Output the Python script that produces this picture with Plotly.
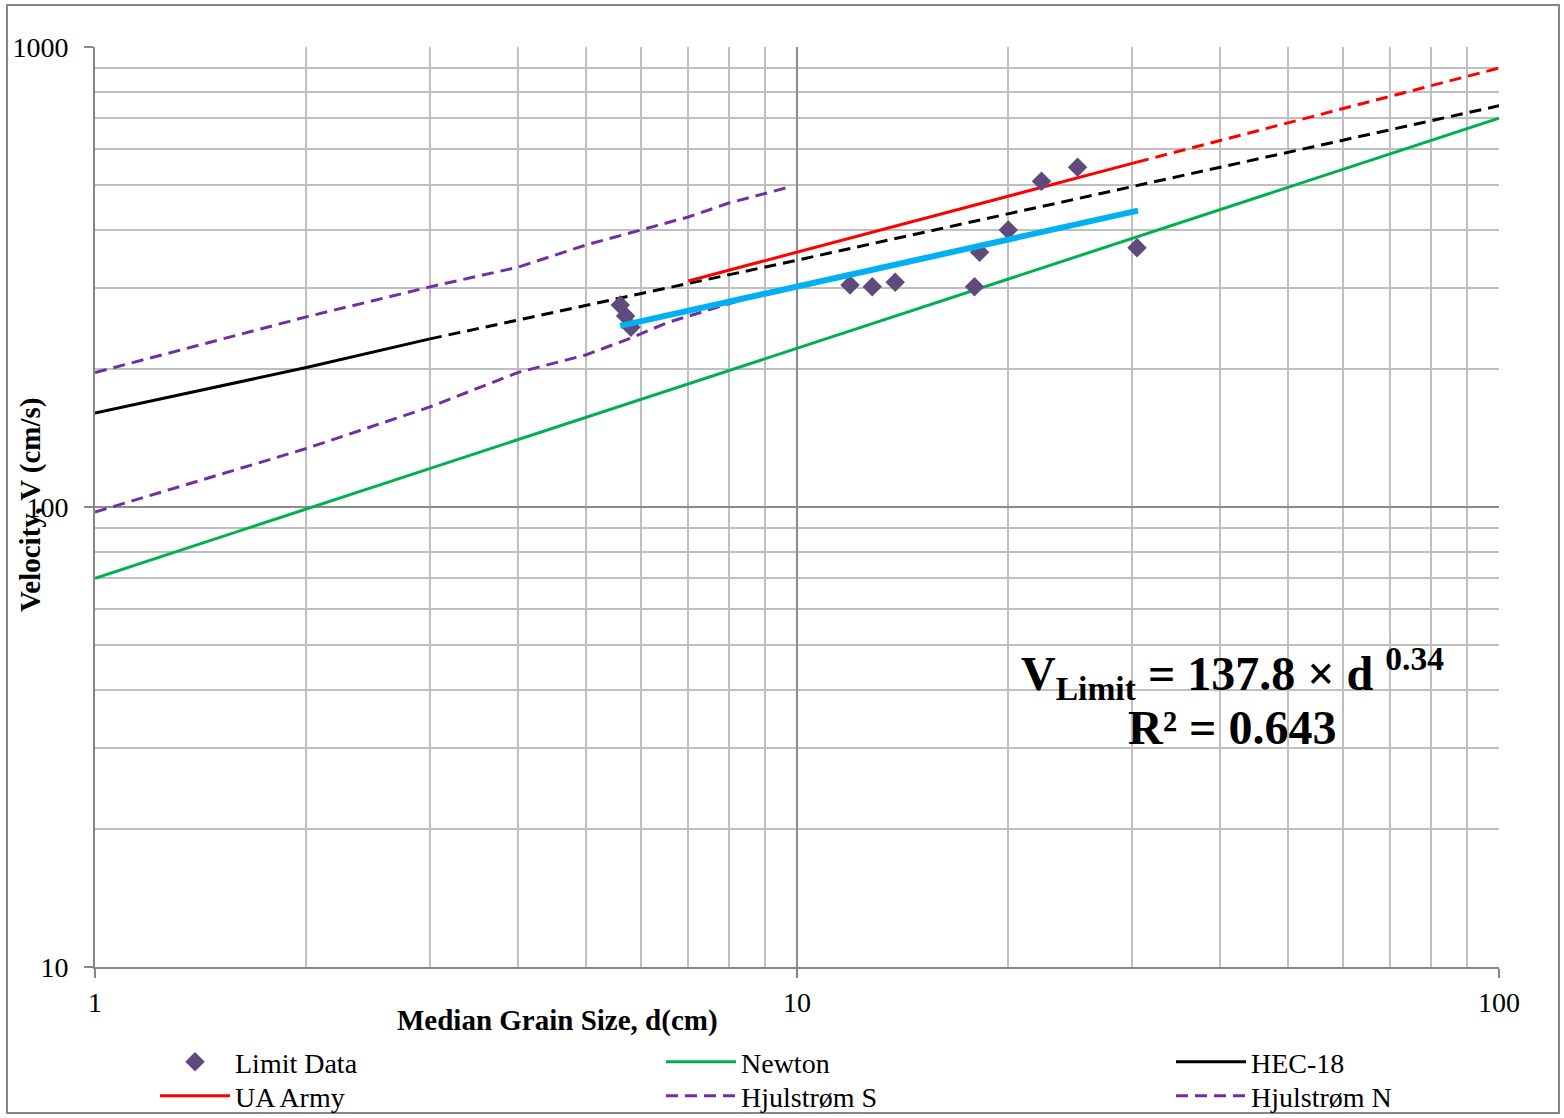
import plotly.graph_objects as go

FONT = "Liberation Serif"

# Observed limit velocities, d (cm) vs V (cm/s)
limit_d = [5.6, 5.7, 5.8, 11.9, 12.8, 13.8, 17.9, 18.2, 20.0, 22.3, 25.1, 30.5]
limit_v = [275, 260, 246, 304, 301, 308, 301, 358, 400, 511, 548, 366]

# Power-law fit to the limit data: V = coef * d ** exp
fit_coef = 137.8
fit_exp = 0.34
fit_r2 = 0.643
fit_d = [5.6, 30.6]
fit_v = [fit_coef * d ** fit_exp for d in fit_d]

# Reference relations
newton_d = [1, 100]
newton_v = [70, 700]

hec_d = [1, 2, 3]
hec_v = [160, 201, 232]
hec_ext_d = [3, 10, 30, 100]
hec_ext_v = [232, 344, 497, 745]

army_d = [7, 10, 30.5]
army_v = [310, 358, 562]
army_ext_d = [30.5, 100]
army_ext_v = [562, 900]

hjul_s_d = [1, 2, 3, 4, 5, 6, 7, 8, 9.65]
hjul_s_v = [196, 259, 301, 332, 371, 400, 427, 458, 494]
hjul_n_d = [1, 2, 3, 4, 5, 5.8, 6.55, 8.6]
hjul_n_v = [97.5, 134, 165, 196, 214, 233, 252, 286]

x_ticks = [1, 10, 100]
x_tick_text = ["1", "10", "100"]
y_ticks = [10, 100, 1000]
y_tick_text = ["10", "100", "1000"]
x_minor = [2, 3, 4, 5, 6, 7, 8, 9, 20, 30, 40, 50, 60, 70, 80, 90]
y_minor = [20, 30, 40, 50, 60, 70, 80, 90, 200, 300, 400, 500, 600, 700, 800, 900]

PURPLE = "#7030a0"
DASH = "12px,7px"
LW = 3

fig = go.Figure()

fig.add_trace(go.Scatter(x=newton_d, y=newton_v, mode="lines", name="Newton",
                         line=dict(color="#00b050", width=LW), legend="legend2"))
fig.add_trace(go.Scatter(x=hjul_s_d, y=hjul_s_v, mode="lines", name="Hjulstrøm S",
                         line=dict(color=PURPLE, width=LW, dash=DASH), legend="legend5"))
fig.add_trace(go.Scatter(x=hec_d, y=hec_v, mode="lines", name="HEC-18",
                         line=dict(color="black", width=LW), legend="legend3"))
fig.add_trace(go.Scatter(x=hec_ext_d, y=hec_ext_v, mode="lines", showlegend=False,
                         line=dict(color="black", width=LW, dash=DASH)))
fig.add_trace(go.Scatter(x=hjul_n_d, y=hjul_n_v, mode="lines", name="Hjulstrøm N",
                         line=dict(color=PURPLE, width=LW, dash=DASH), legend="legend6"))
fig.add_trace(go.Scatter(x=army_d, y=army_v, mode="lines", name="UA Army",
                         line=dict(color="red", width=LW), legend="legend4"))
fig.add_trace(go.Scatter(x=army_ext_d, y=army_ext_v, mode="lines", showlegend=False,
                         line=dict(color="red", width=LW, dash=DASH)))
fig.add_trace(go.Scatter(x=limit_d, y=limit_v, mode="markers", name="Limit Data",
                         marker=dict(symbol="diamond", size=15, color="#604a7b"),
                         legend="legend"))
fig.add_trace(go.Scatter(x=fit_d, y=fit_v, mode="lines", showlegend=False,
                         line=dict(color="#00b0f0", width=6)))

L, T, W, H = 95, 47, 1404, 920


def px(xp):
    return (xp - L) / W


def py(yp):
    return (T + H - yp) / H


axis_common = dict(
    type="log",
    showline=True, linecolor="#868686", linewidth=2,
    ticks="outside", ticklen=9, tickwidth=2, tickcolor="#868686",
    showgrid=True, gridcolor="#8c8c8c", gridwidth=2,
    zeroline=False,
    tickfont=dict(family=FONT, size=28, color="black"),
    tickmode="array",
)

fig.update_xaxes(**axis_common, range=[0, 2], tickvals=x_ticks, ticktext=x_tick_text,
                 ticklabelstandoff=0,
                 minor=dict(tickvals=x_minor, showgrid=True, gridcolor="#bfbfbf",
                            gridwidth=2, ticks=""))
fig.update_yaxes(**axis_common, range=[1, 3], tickvals=y_ticks, ticktext=y_tick_text,
                 ticklabelstandoff=10,
                 minor=dict(tickvals=y_minor, showgrid=True, gridcolor="#bfbfbf",
                            gridwidth=2, ticks=""))

legend_style = dict(orientation="v", xanchor="left", yanchor="top",
                    font=dict(family=FONT, size=28, color="black"),
                    itemwidth=70, bgcolor="rgba(0,0,0,0)")
row1, row2 = py(1037), py(1071)
col1, col2, col3 = px(155), px(661), px(1171)

fig.update_layout(
    width=1564, height=1118,
    margin=dict(l=L, r=1564 - L - W, t=T, b=1118 - T - H, autoexpand=False),
    paper_bgcolor="white", plot_bgcolor="white",
    font=dict(family=FONT, color="black"),
    legend=dict(**legend_style, x=col1, y=row1),
    legend2=dict(**legend_style, x=col2, y=row1),
    legend3=dict(**legend_style, x=col3, y=row1),
    legend4=dict(**legend_style, x=col1, y=row2),
    legend5=dict(**legend_style, x=col2, y=row2),
    legend6=dict(**legend_style, x=col3, y=row2),
    shapes=[dict(type="rect", xref="paper", yref="paper",
                 x0=px(7), x1=px(1559), y0=py(1113), y1=py(5),
                 line=dict(color="#868686", width=2), layer="above")],
    annotations=[
        dict(text="<b>Median Grain Size, d(cm)</b>", xref="paper", yref="paper",
             x=px(557), y=py(1020), xanchor="center", yanchor="middle", showarrow=False,
             font=dict(family=FONT, size=29, color="black")),
        dict(text="<b>Velocity, V (cm/s)</b>", xref="paper", yref="paper",
             x=px(30), y=py(505), xanchor="center", yanchor="middle", showarrow=False,
             textangle=-90, font=dict(family=FONT, size=29, color="black")),
        dict(text=f"<b>V<sub>Limit</sub> = {fit_coef} × d <sup>{fit_exp}</sup></b>",
             xref="paper", yref="paper", x=px(1232), y=py(673),
             xanchor="center", yanchor="middle", showarrow=False,
             font=dict(family=FONT, size=48, color="black")),
        dict(text=f"<b>R² = {fit_r2}</b>",
             xref="paper", yref="paper", x=px(1232), y=py(727),
             xanchor="center", yanchor="middle", showarrow=False,
             font=dict(family=FONT, size=48, color="black")),
    ],
)

fig.write_html("out.html")
